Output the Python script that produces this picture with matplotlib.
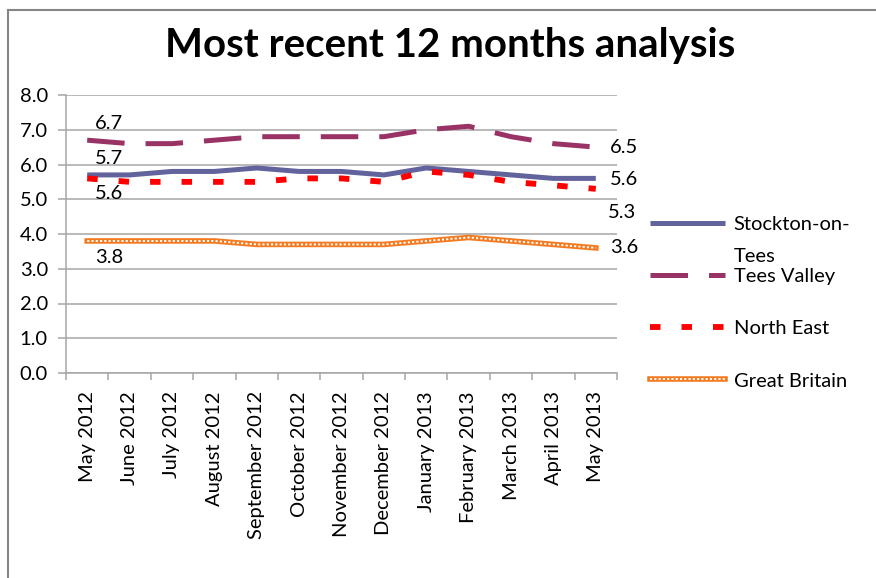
import matplotlib
matplotlib.use("Agg")
import matplotlib.pyplot as plt
from matplotlib.lines import Line2D
from matplotlib.legend_handler import HandlerTuple
import numpy as np

plt.rcParams["font.family"] = ["Lato", "DejaVu Sans"]

months = ["May 2012", "June 2012", "July 2012", "August 2012", "September 2012",
          "October 2012", "November 2012", "December 2012", "January 2013",
          "February 2013", "March 2013", "April 2013", "May 2013"]
stockton = [5.7, 5.7, 5.8, 5.8, 5.9, 5.8, 5.8, 5.7, 5.9, 5.8, 5.7, 5.6, 5.6]
tees_valley = [6.7, 6.6, 6.6, 6.7, 6.8, 6.8, 6.8, 6.8, 7.0, 7.1, 6.8, 6.6, 6.5]
north_east = [5.6, 5.5, 5.5, 5.5, 5.5, 5.6, 5.6, 5.5, 5.8, 5.7, 5.5, 5.4, 5.3]
great_britain = [3.8, 3.8, 3.8, 3.8, 3.7, 3.7, 3.7, 3.7, 3.8, 3.9, 3.8, 3.7, 3.6]

fig = plt.figure(figsize=(8.76, 5.78), dpi=100)
ax = fig.add_axes([66 / 876, 1 - 373 / 578, 551 / 876, 278 / 578])

x = np.arange(len(months))
grid_col = "#a6a6a6"

# series
l_st, = ax.plot(x, stockton, color="#62629c", lw=3.6, solid_capstyle="butt", zorder=4)
l_tv, = ax.plot(x, tees_valley, color="#993366", lw=3.6, dashes=(7.5, 4.2), zorder=4)
l_ne, = ax.plot(x, north_east, color="#ff0000", lw=4.2, dashes=(1.8, 3.6), zorder=5)
l_gb, = ax.plot(x, great_britain, color="#f47a20", lw=4.0, zorder=3)
l_gb2, = ax.plot(x, great_britain, color="white", lw=1.4, dashes=(1.1, 1.1), zorder=3.5)

# data labels on first and last point
fs = 14.5
first = 0
last = len(months) - 1
ax.annotate(f"{tees_valley[first]:.1f}", (x[first], tees_valley[first]),
            xytext=(16, 12), textcoords="offset points", ha="center", va="center", fontsize=fs)
ax.annotate(f"{stockton[first]:.1f}", (x[first], stockton[first]),
            xytext=(16, 12), textcoords="offset points", ha="center", va="center", fontsize=fs)
ax.annotate(f"{north_east[first]:.1f}", (x[first], north_east[first]),
            xytext=(16, -11), textcoords="offset points", ha="center", va="center", fontsize=fs)
ax.annotate(f"{great_britain[first]:.1f}", (x[first], great_britain[first]),
            xytext=(16, -12), textcoords="offset points", ha="center", va="center", fontsize=fs)
ax.annotate(f"{tees_valley[last]:.1f}", (x[last], tees_valley[last]),
            xytext=(10, 0), textcoords="offset points", ha="left", va="center", fontsize=fs)
ax.annotate(f"{stockton[last]:.1f}", (x[last], stockton[last]),
            xytext=(10, -1), textcoords="offset points", ha="left", va="center", fontsize=fs)
ax.annotate(f"{north_east[last]:.1f}", (x[last], north_east[last]),
            xytext=(9, -17), textcoords="offset points", ha="left", va="center", fontsize=fs)
ax.annotate(f"{great_britain[last]:.1f}", (x[last], great_britain[last]),
            xytext=(10, 0), textcoords="offset points", ha="left", va="center", fontsize=fs)

# axes styling
ax.set_xlim(-0.5, len(months) - 0.5)
ax.set_ylim(0, 8)
ax.set_yticks(np.arange(0, 9, 1))
ax.set_yticklabels([f"{v:.1f}" for v in np.arange(0, 9, 1)], fontsize=fs)
ax.set_xticks(x)
ax.set_xticklabels(months, rotation=90, fontsize=fs)
ax.set_xticks(np.arange(-0.5, len(months), 1), minor=True)
ax.tick_params(axis="x", which="major", length=0, pad=13)
ax.tick_params(axis="x", which="minor", length=5, color=grid_col, width=1.1)
ax.tick_params(axis="y", length=6, color=grid_col, width=1.1, pad=7)
ax.yaxis.grid(True, color=grid_col, lw=1.1)
ax.set_axisbelow(True)
for side in ("top", "right"):
    ax.spines[side].set_visible(False)
for side in ("left", "bottom"):
    ax.spines[side].set_color(grid_col)
    ax.spines[side].set_linewidth(1.1)

# legend ("Tees" of the first entry wraps onto its own line, as in the original)
leg = ax.legend([l_st, l_tv, l_ne, (l_gb, l_gb2)],
                ["Stockton-on-", "Tees Valley", "North East", "Great Britain"],
                handler_map={tuple: HandlerTuple(ndivide=1, pad=0)},
                loc="upper left", bbox_to_anchor=(650 / 876, 1 - 216 / 578),
                bbox_transform=fig.transFigure, frameon=False, fontsize=fs,
                handlelength=3.7, handletextpad=0.45, labelspacing=1.74,
                borderpad=0, borderaxespad=0)
fig.canvas.draw()
bb = leg.get_texts()[0].get_window_extent().transformed(fig.transFigure.inverted())
fig.text(bb.x0, bb.y0 - 32 / 578 + bb.height / 2, "Tees", ha="left", va="center",
         fontsize=fs)

fig.text(450 / 876, 1 - 45 / 578, "Most recent 12 months analysis",
         ha="center", va="center", fontsize=29, fontweight="bold")

# chart frame
fig.add_artist(Line2D([8 / 876, 8 / 876], [0, 1 - 10 / 578], transform=fig.transFigure,
                      color="#868686", lw=1.5))
fig.add_artist(Line2D([8 / 876, 1], [1 - 10 / 578, 1 - 10 / 578], transform=fig.transFigure,
                      color="#868686", lw=1.5))

fig.savefig("out.png", dpi=100)
